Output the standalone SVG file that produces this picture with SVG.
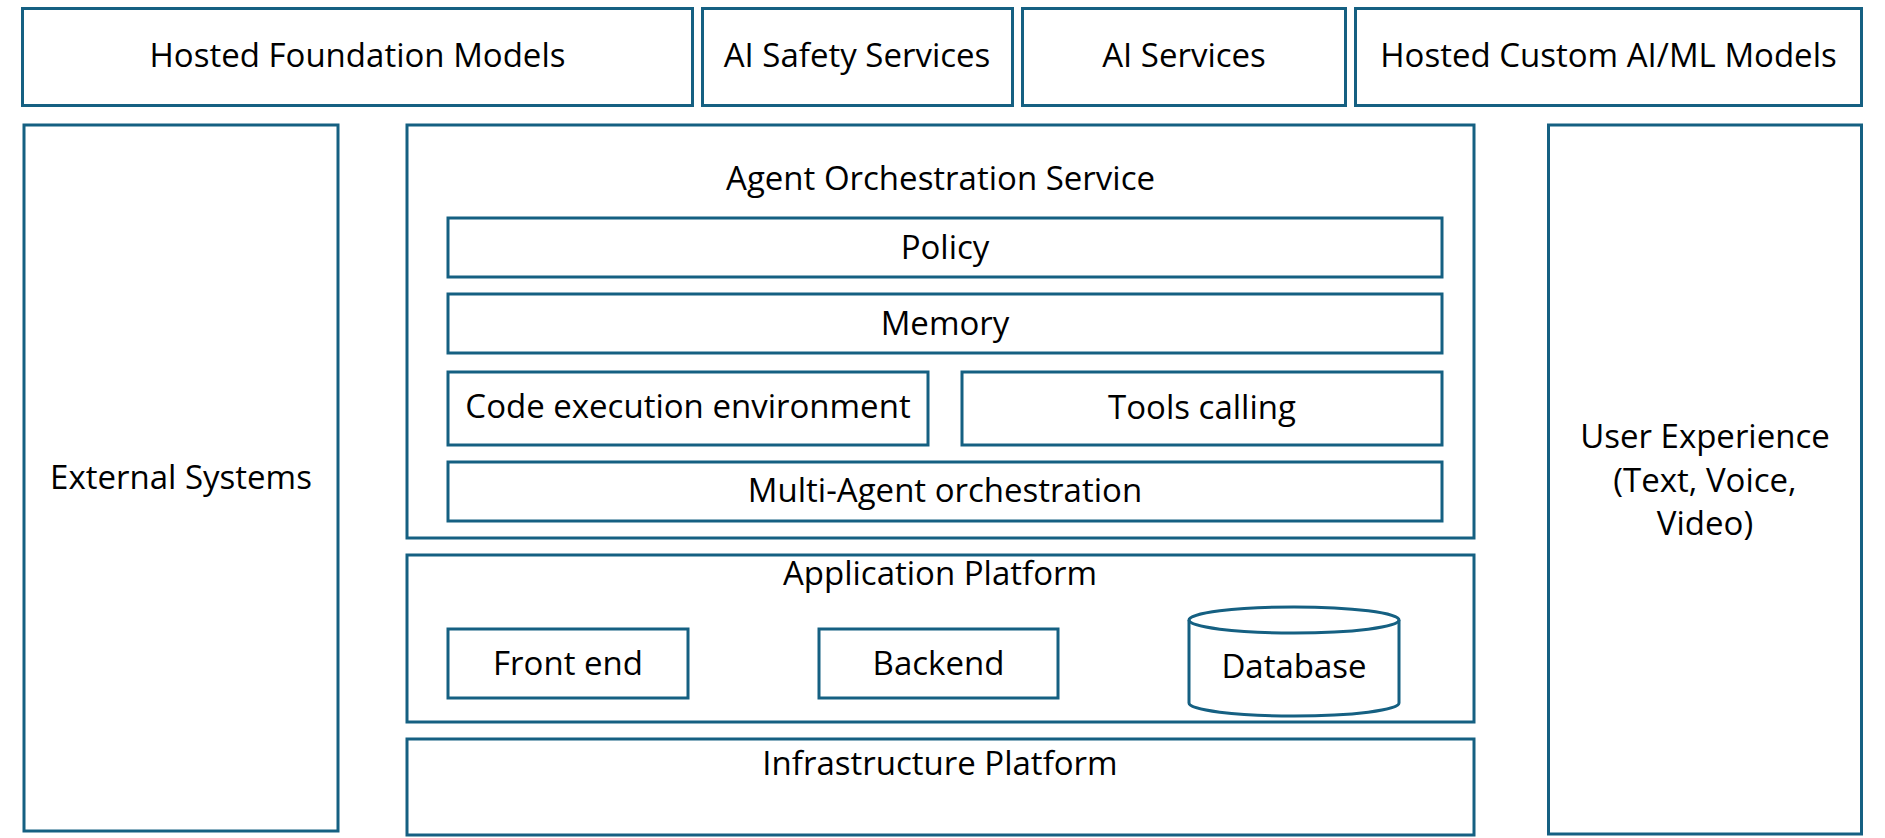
<svg xmlns="http://www.w3.org/2000/svg" width="1885" height="838" viewBox="0 0 1885 838">
<style>
.b{fill:#ffffff;stroke:#156082;stroke-width:3}
.t{font-family:"Open Sans","Noto Sans","Liberation Sans",sans-serif;font-size:33px;fill:#000000;text-anchor:middle}
</style>
<rect x="0" y="0" width="1885" height="838" fill="#ffffff"/>
<g id="hosted-foundation-models"><rect class="b" x="22.5" y="8.5" width="670" height="97"/><text class="t" x="357.5" y="67">Hosted Foundation Models</text></g>
<g id="ai-safety-services"><rect class="b" x="702.5" y="8.5" width="310" height="97"/><text class="t" x="857" y="67">AI Safety Services</text></g>
<g id="ai-services"><rect class="b" x="1022.5" y="8.5" width="323" height="97"/><text class="t" x="1184" y="67">AI Services</text></g>
<g id="hosted-custom-models"><rect class="b" x="1355.5" y="8.5" width="506" height="97"/><text class="t" x="1608.5" y="67">Hosted Custom AI/ML Models</text></g>
<g id="external-systems"><rect class="b" x="24" y="125" width="314" height="706"/><text class="t" x="181" y="489">External Systems</text></g>
<g id="user-experience"><rect class="b" x="1548.5" y="125" width="313" height="709"/><text class="t" x="1705" y="448">User Experience</text><text class="t" x="1705" y="492">(Text, Voice,</text><text class="t" x="1705" y="535">Video)</text></g>
<g id="agent-orchestration-service"><rect class="b" x="407" y="125" width="1067" height="413"/><text class="t" x="940.5" y="190">Agent Orchestration Service</text></g>
<g id="policy"><rect class="b" x="448" y="218" width="994" height="59"/><text class="t" x="945" y="259">Policy</text></g>
<g id="memory"><rect class="b" x="448" y="294" width="994" height="59"/><text class="t" x="945" y="335">Memory</text></g>
<g id="code-execution-environment"><rect class="b" x="448" y="372" width="480" height="73"/><text class="t" x="688" y="418">Code execution environment</text></g>
<g id="tools-calling"><rect class="b" x="962" y="372" width="480" height="73"/><text class="t" x="1202" y="419">Tools calling</text></g>
<g id="multi-agent-orchestration"><rect class="b" x="448" y="462" width="994" height="59"/><text class="t" x="945" y="502">Multi-Agent orchestration</text></g>
<g id="application-platform"><rect class="b" x="407" y="555" width="1067" height="167"/><text class="t" x="940" y="585">Application Platform</text></g>
<g id="front-end"><rect class="b" x="448" y="629" width="240" height="69"/><text class="t" x="568" y="675">Front end</text></g>
<g id="backend"><rect class="b" x="819" y="629" width="239" height="69"/><text class="t" x="938.5" y="675">Backend</text></g>
<g id="database"><path class="b" d="M1189,620 A105,13 0 0 1 1399,620 L1399,703 A105,13 0 0 1 1189,703 Z"/><path d="M1189,620 A105,13 0 0 0 1399,620" fill="none" stroke="#156082" stroke-width="3"/><text class="t" x="1294" y="678">Database</text></g>
<g id="infrastructure-platform"><rect class="b" x="407" y="739" width="1067" height="96"/><text class="t" x="940" y="775">Infrastructure Platform</text></g>
<g id="connectors"></g>
</svg>
